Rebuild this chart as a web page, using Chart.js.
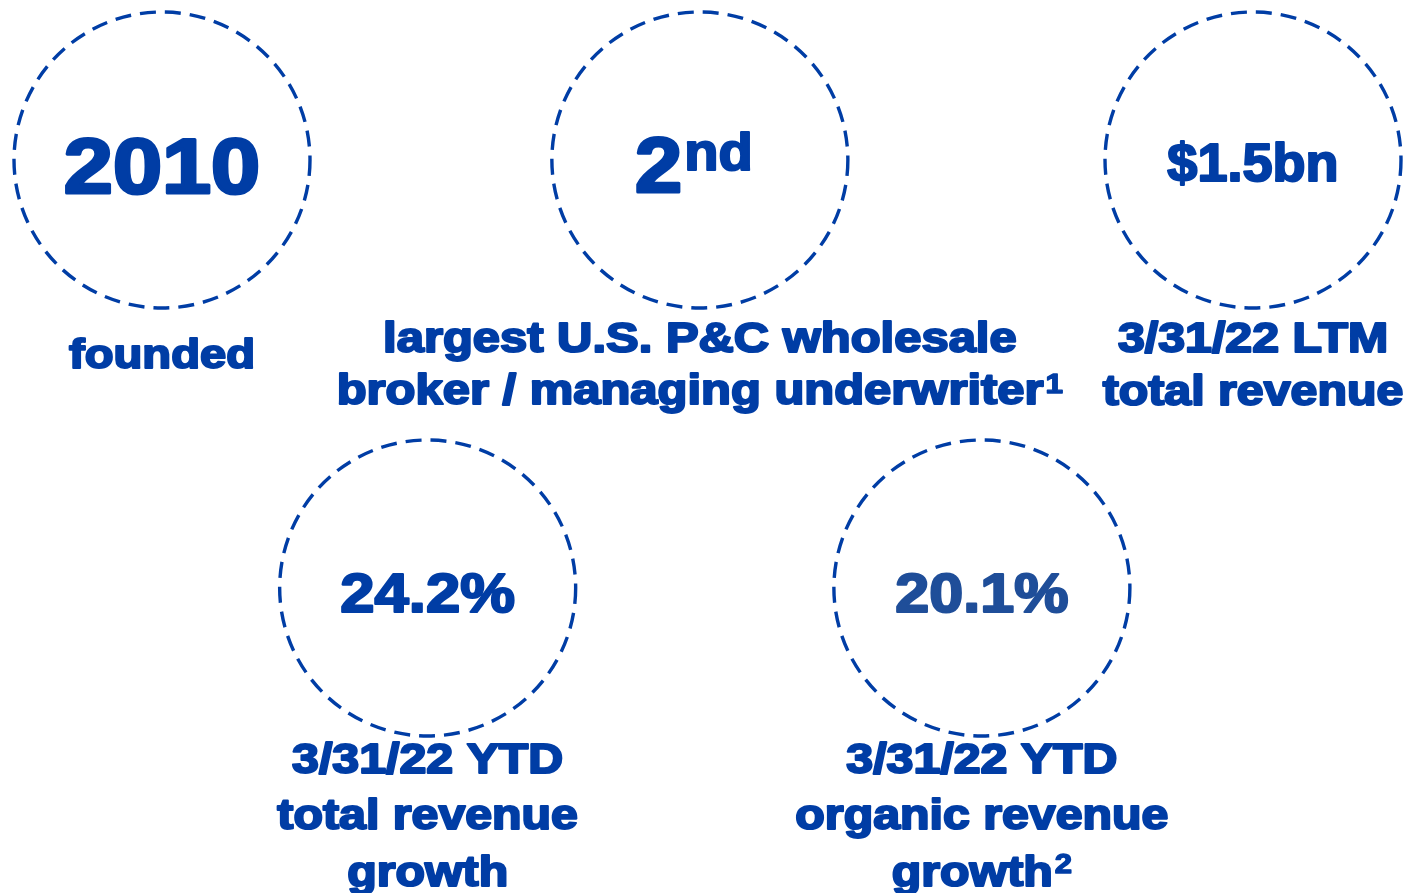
<!DOCTYPE html>
<html>
<head>
<meta charset="utf-8">
<script src="https://cdn.jsdelivr.net/npm/chart.js@4.4.1/dist/chart.umd.min.js"></script>
<style>
    html, body { margin: 0; padding: 0; background: #fff; }
    #wrap { width: 1417px; height: 893px; position: relative; }
</style>
</head>
<body>
<div id="wrap"><canvas id="grafico"></canvas></div>
<script>
// Valores de destaque dentro de cada círculo
const valores = ['2010', '2', '$1.5bn', '24.2%', '20.1%'];
const valoresSobrescrito = ['', 'nd', '', '', ''];

// Legendas abaixo de cada círculo
const legendas = [
    ['founded'],
    ['largest U.S. P&C wholesale', 'broker / managing underwriter'],
    ['3/31/22 LTM', 'total revenue'],
    ['3/31/22 YTD', 'total revenue', 'growth'],
    ['3/31/22 YTD', 'organic revenue', 'growth']
];
const notas = ['', '1', '', '', '2'];

// Posição de cada círculo (coluna / linha da grade)
const colunas = [0, 0.986, 2, 0.487, 1.503];
const linhas = [0, 0, 0, 1, 1];

// Estilos
const AZUL = '#003da5';
const corValor = [AZUL, AZUL, AZUL, AZUL, '#1f4e99'];
const tamValor = [77, 77, 53, 56, 56];
const esticaValor = [1.146, 1.1, 1.02, 1.1, 1.09];
const desceValor = [33, 32, 21, 24, 24];
const desceLegenda = [208, 192, 192, 185, 185];
const entreLinhas = [53, 52, 53, 56.5, 56.5];
const esticaLegenda = [1.15, 1.165, 1.15, 1.15, 1.15];
const FONTE = '"Liberation Sans", Arial, sans-serif';

function escreve(ctx, texto, x, y, tam, estica, cor, grossura) {
    ctx.save();
    ctx.font = 'bold ' + tam + 'px ' + FONTE;
    ctx.translate(x, y);
    ctx.scale(estica, 1);
    ctx.textAlign = 'left';
    ctx.textBaseline = 'alphabetic';
    ctx.fillStyle = cor;
    ctx.strokeStyle = cor;
    ctx.lineWidth = tam * (grossura || 0.04);
    ctx.lineJoin = 'round';
    ctx.fillText(texto, 0, 0);
    ctx.strokeText(texto, 0, 0);
    ctx.restore();
}

function largura(ctx, texto, tam, estica) {
    ctx.save();
    ctx.font = 'bold ' + tam + 'px ' + FONTE;
    const w = ctx.measureText(texto).width * estica;
    ctx.restore();
    return w;
}

// texto principal + sobrescrito opcional, centralizado em cx
function escreveComSobre(ctx, texto, sobre, cx, y, tam, tamSobre, sobe, estica, cor, grossura) {
    const w1 = largura(ctx, texto, tam, estica);
    const w2 = sobre ? largura(ctx, sobre, tamSobre, estica) + 2 : 0;
    const x0 = cx - (w1 + w2) / 2;
    escreve(ctx, texto, x0, y, tam, estica, cor, grossura);
    if (sobre) escreve(ctx, sobre, x0 + w1 + 2, y - sobe, tamSobre, estica, cor, grossura);
}

const tracejado = {
    id: 'tracejado',
    beforeDatasetsDraw(chart) {
        chart.ctx.setLineDash([16, 9]);
    },
    afterDatasetsDraw(chart) {
        chart.ctx.setLineDash([]);
    }
};

const textos = {
    id: 'textos',
    afterDraw(chart) {
        const ctx = chart.ctx;
        const pontos = chart.getDatasetMeta(0).data;
        pontos.forEach(function (p, i) {
            // valor
            if (valoresSobrescrito[i]) {
                escreveComSobre(ctx, valores[i], valoresSobrescrito[i], p.x - 6, p.y + desceValor[i],
                    tamValor[i], 51, 22, esticaValor[i], corValor[i]);
            } else {
                const w = largura(ctx, valores[i], tamValor[i], esticaValor[i]);
                escreve(ctx, valores[i], p.x - w / 2, p.y + desceValor[i], tamValor[i], esticaValor[i], corValor[i]);
            }
            // legenda
            const ls = legendas[i];
            ls.forEach(function (linha, j) {
                const y = p.y + desceLegenda[i] + j * entreLinhas[i];
                const ultima = j === ls.length - 1;
                const sobre = ultima ? notas[i] : '';
                const tam = i === 0 ? 41 : 42;
                escreveComSobre(ctx, linha, sobre, p.x, y, tam, 27, i === 4 ? 13 : 11,
                    esticaLegenda[i], AZUL, 0.05);
            });
        });
    }
};

const ctx = document.getElementById('grafico').getContext('2d');
new Chart(ctx, {
    type: 'scatter',
    data: {
        datasets: [{
            label: 'destaques',
            data: colunas.map(function (c, i) { return { x: c, y: linhas[i] }; }),
            pointRadius: 148,
            pointHoverRadius: 148,
            pointBorderWidth: 3.4,
            pointHoverBorderWidth: 3.4,
            pointBorderColor: AZUL,
            pointBackgroundColor: 'rgba(0,0,0,0)',
            clip: false
        }]
    },
    options: {
        responsive: true,
        maintainAspectRatio: false,
        animation: false,
        events: [],
        layout: { padding: 0, autoPadding: false },
        plugins: {
            legend: { display: false },
            tooltip: { enabled: false }
        },
        scales: {
            x: { type: 'linear', display: false, min: -0.29698, max: 2.30064 },
            y: { type: 'linear', display: false, reverse: true, min: -0.37383, max: 1.71262 }
        }
    },
    plugins: [tracejado, textos]
});
</script>
</body>
</html>
